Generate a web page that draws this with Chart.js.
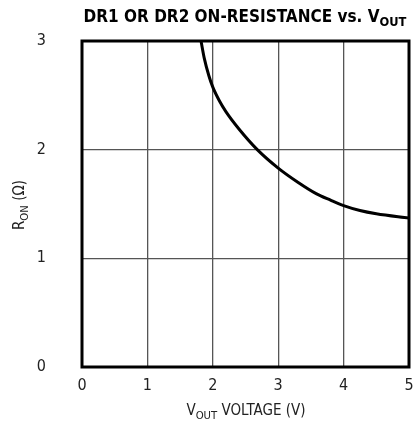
<!DOCTYPE html>
<html>
<head>
<meta charset="utf-8">
<script src="https://cdn.jsdelivr.net/npm/chart.js@4"></script>
<style>
  body { margin: 0; background: #fff; }
  #wrap { width: 416px; height: 427px; }
</style>
</head>
<body>
<div id="wrap"><canvas id="ronChart"></canvas></div>
<script>
// curve
var voutVolts = [1.82, 1.87, 1.94, 2.0, 2.1, 2.2, 2.4, 2.68, 3.0, 3.3, 3.58, 3.8, 4.0, 4.25, 4.5, 5.0];
var ronOhms = [3.0, 2.84, 2.68, 2.575, 2.45, 2.35, 2.19, 2.0, 1.83, 1.70, 1.595, 1.535, 1.485, 1.44, 1.41, 1.37];
var xTicks = [0, 1, 2, 3, 4, 5];
var yTicks = [0, 1, 2, 3];

const FONT = '"Liberation Sans Narrow", "DejaVu Sans Condensed", "Liberation Sans", sans-serif';

// draws text with a subscript piece
function subText(ctx, parts, x, y, size, bold, align) {
  var w = 0;
  parts.forEach(function (p) {
    ctx.font = (bold ? 'bold ' : '') + (p.sub ? size * 0.75 : size) + 'px ' + FONT;
    w += ctx.measureText(p.t).width;
  });
  var cx = align === 'center' ? x - w / 2 : x;
  parts.forEach(function (p) {
    ctx.font = (bold ? 'bold ' : '') + (p.sub ? size * 0.75 : size) + 'px ' + FONT;
    ctx.fillText(p.t, cx, p.sub ? y + size * 0.25 : y);
    cx += ctx.measureText(p.t).width;
  });
}

const labelsPlugin = {
  id: 'labels',
  afterDraw(chart) {
    const ctx = chart.ctx;
    const a = chart.chartArea;
    ctx.save();
    // frame
    ctx.strokeStyle = '#000';
    ctx.lineWidth = 3;
    ctx.strokeRect(a.left, a.top, a.right - a.left, a.bottom - a.top);

    ctx.fillStyle = '#000';
    ctx.textAlign = 'left';
    ctx.textBaseline = 'alphabetic';
    subText(ctx, [{t: 'DR1 OR DR2 ON-RESISTANCE vs. V'}, {t: 'OUT', sub: true}], 245, 22, 17, true, 'center');

    ctx.fillStyle = '#222';
    subText(ctx, [{t: 'V'}, {t: 'OUT', sub: true}, {t: ' VOLTAGE (V)'}], 246, 415, 15, false, 'center');

    ctx.translate(24, 205);
    ctx.rotate(-Math.PI / 2);
    subText(ctx, [{t: 'R'}, {t: 'ON', sub: true}, {t: ' (Ω)'}], 0, 0, 15, false, 'center');
    ctx.restore();
  }
};

new Chart(document.getElementById('ronChart'), {
  type: 'scatter',
  data: {
    datasets: [{
      data: voutVolts.map(function (v, i) { return {x: v, y: ronOhms[i]}; }),
      showLine: true,
      borderColor: '#000',
      borderWidth: 3,
      pointRadius: 0,
      cubicInterpolationMode: 'monotone',
      fill: false
    }]
  },
  options: {
    responsive: true,
    maintainAspectRatio: false,
    animation: false,
    layout: { padding: { left: 0, right: 7, top: 41, bottom: 0 } },
    plugins: { legend: { display: false }, tooltip: { enabled: false } },
    scales: {
      x: {
        type: 'linear', min: 0, max: 5,
        afterBuildTicks: function (s) { s.ticks = xTicks.map(function (v) { return {value: v}; }); },
        afterFit: function (s) { s.height = 60; s.paddingLeft = 0; s.paddingRight = 0; },
        grid: { color: '#555', lineWidth: 1.3, drawTicks: false },
        border: { display: false },
        ticks: { color: '#222', padding: 9, font: { family: FONT, size: 16 } }
      },
      y: {
        type: 'linear', min: 0, max: 3,
        afterBuildTicks: function (s) { s.ticks = yTicks.map(function (v) { return {value: v}; }); },
        afterFit: function (s) { s.width = 82; s.paddingTop = 0; s.paddingBottom = 0; },
        grid: { color: '#555', lineWidth: 1.3, drawTicks: false },
        border: { display: false },
        ticks: { color: '#222', padding: 36, font: { family: FONT, size: 16 } }
      }
    }
  },
  plugins: [labelsPlugin]
});
</script>
</body>
</html>
